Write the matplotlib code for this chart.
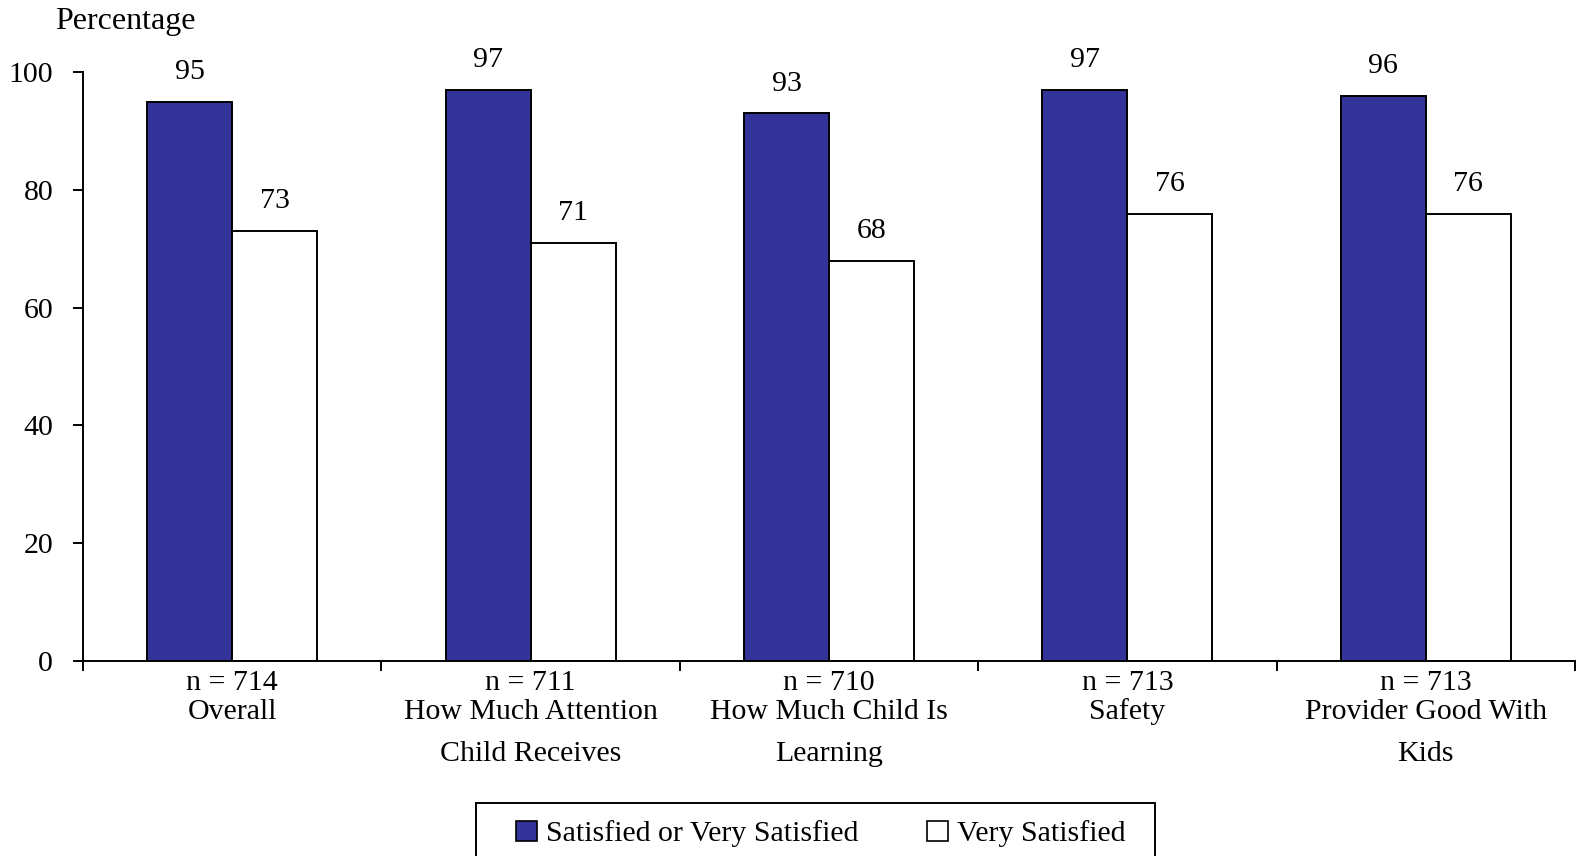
import matplotlib
matplotlib.use("Agg")
import matplotlib.pyplot as plt
from matplotlib.patches import Patch, Rectangle
from matplotlib.transforms import blended_transform_factory
import numpy as np

categories = ["Overall", "How Much Attention\nChild Receives", "How Much Child Is\nLearning",
              "Safety", "Provider Good With\nKids"]
sample_sizes = [714, 711, 710, 713, 713]
satisfied_or_very = [95, 97, 93, 97, 96]
very_satisfied = [73, 71, 68, 76, 76]
series_names = ["Satisfied or Very Satisfied", "Very Satisfied"]
y_ticks = [0, 20, 40, 60, 80, 100]

plt.rcParams["font.family"] = ["Liberation Serif", "DejaVu Serif"]
FS = 21.5
W, H = 1579, 856

fig = plt.figure(figsize=(W / 100, H / 100), dpi=100)
ax = fig.add_axes([83 / W, 1 - 660.7 / H, (1575 - 83) / W, (660.7 - 72.3) / H])

x = np.arange(len(categories))
w = 0.285
blue = "#333399"
b1 = ax.bar(x - w / 2, satisfied_or_very, w, color=blue, edgecolor="black", linewidth=1.4, zorder=2)
b2 = ax.bar(x + w / 2, very_satisfied, w, color="white", edgecolor="black", linewidth=1.4, zorder=2)

for bars, vals in ((b1, satisfied_or_very), (b2, very_satisfied)):
    for r, v in zip(bars, vals):
        ax.annotate(f"{v}", (r.get_x() + r.get_width() / 2, v), xytext=(0, 21.5),
                    textcoords="offset points", ha="center", va="center", fontsize=FS)

ax.set_xlim(-0.5, len(categories) - 0.5)
ax.set_ylim(0, 100)
ax.set_yticks(y_ticks)
ax.set_yticklabels([str(t) for t in y_ticks], fontsize=FS)
ax.tick_params(axis="y", direction="out", length=7.5, width=1.4, pad=14)

ax.set_xticks(np.arange(len(categories) + 1) - 0.5)
ax.set_xticklabels([])
ax.tick_params(axis="x", direction="out", length=7.5, width=1.4)

for s in ("top", "right"):
    ax.spines[s].set_visible(False)
for s in ("left", "bottom"):
    ax.spines[s].set_linewidth(1.4)

trans = blended_transform_factory(ax.transData, fig.transFigure)
line_y = [712, 754]
for i, (cat, n) in enumerate(zip(categories, sample_sizes)):
    ax.text(i, 1 - 683 / H, f"n = {n}", transform=trans, ha="center", va="center", fontsize=FS)
    for j, part in enumerate(cat.split("\n")):
        ax.text(i, 1 - line_y[j] / H, part, transform=trans, ha="center", va="center",
                fontsize=FS)

fig.text(55 / W, 1 - 21 / H, "Percentage", ha="left", va="center", fontsize=23)

# legend frame, running off the bottom edge
fig.patches.append(Rectangle((476 / W, -0.02), (1155 - 476) / W, 0.02 + (H - 803) / H,
                             transform=fig.transFigure, facecolor="white",
                             edgecolor="black", linewidth=1.4))
handles = [Patch(facecolor=blue, edgecolor="black", linewidth=1.2),
           Patch(facecolor="white", edgecolor="black", linewidth=1.2)]
leg = fig.legend(handles, series_names, loc="center left",
                 bbox_to_anchor=(516 / W, 1 - 834 / H), ncol=2, fontsize=FS,
                 frameon=False, handlelength=0.7, handleheight=0.7, handletextpad=0.3,
                 columnspacing=2.3, borderpad=0, borderaxespad=0)

fig.savefig("out.png", dpi=100)
